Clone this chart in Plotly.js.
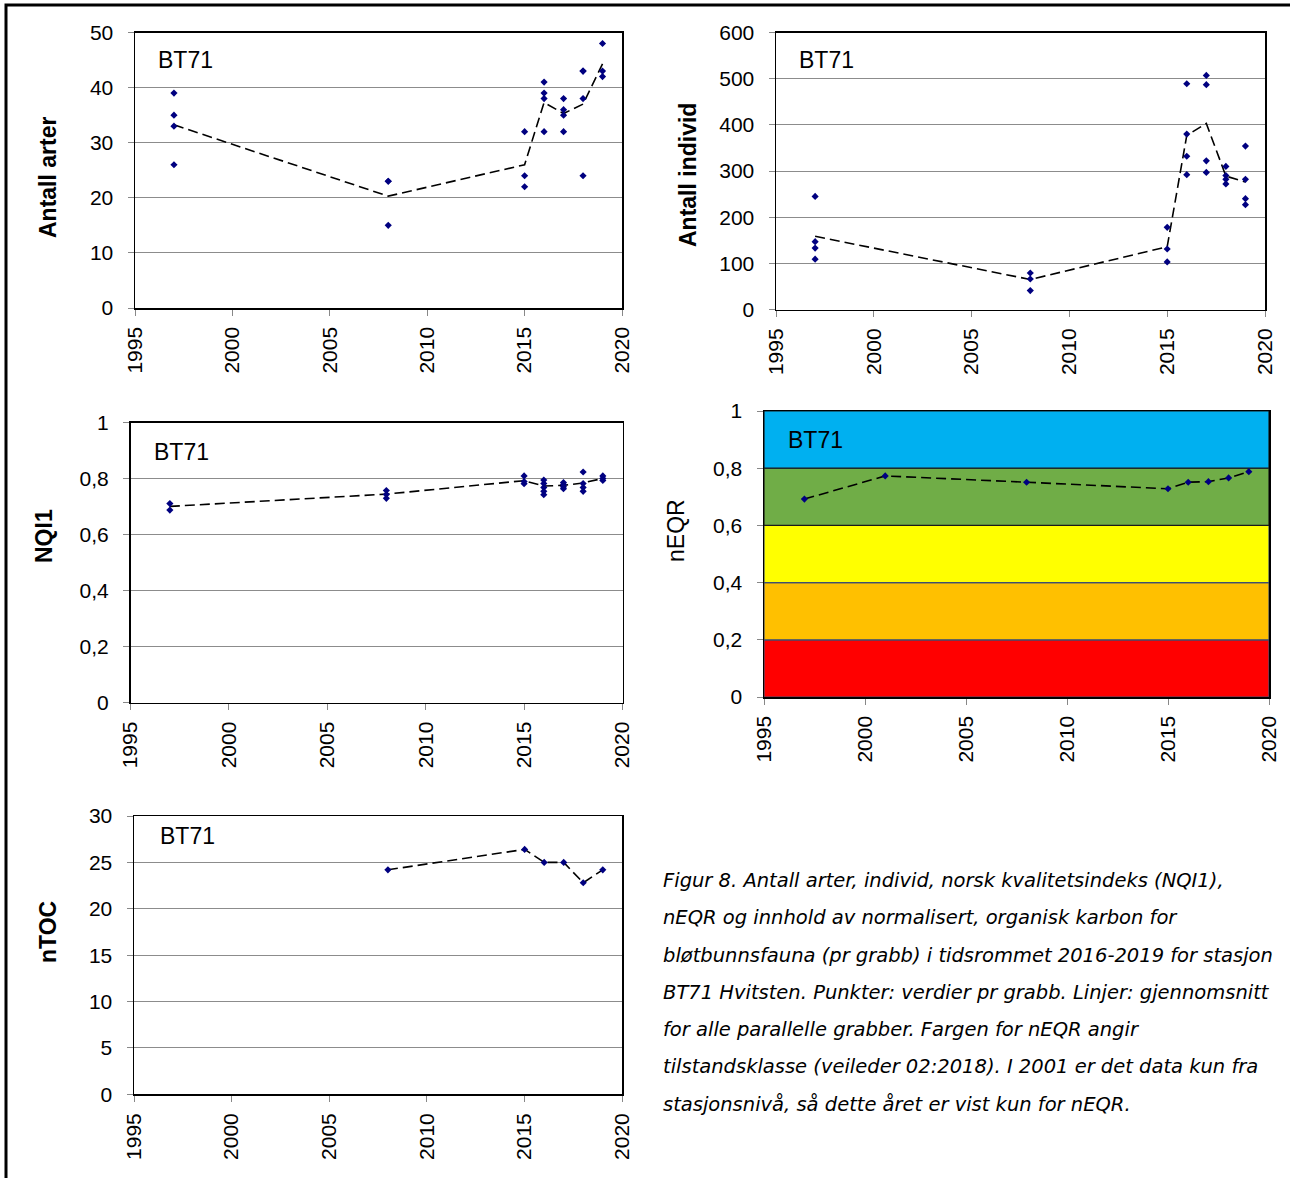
<!DOCTYPE html>
<html>
<head>
<meta charset="utf-8">
<script src="https://cdn.plot.ly/plotly-3.0.1.min.js"></script>
<style>html,body{margin:0;padding:0;background:#fff;}#chart{width:1290px;height:1178px;}</style>
</head>
<body>
<div id="chart"></div>
<script>
// ---------------- DATA ----------------
const stationLabel = 'BT71';
const xTickVals = [1995, 2000, 2005, 2010, 2015, 2020];
const xTickText = ['1995', '2000', '2005', '2010', '2015', '2020'];

// Antall arter (per grabb)
const arterYears  = [1997,1997,1997,1997, 2008,2008,2008, 2015,2015,2015, 2016,2016,2016,2016, 2017,2017,2017,2017, 2018,2018,2018,2018, 2019,2019,2019];
const arterValues = [39,35,33,26, 23,23,15, 32,24,22, 41,39,38,32, 38,36,35,32, 43,43,38,24, 48,43,42];
const arterMeanYears  = [1997, 2008, 2015, 2016, 2017, 2018, 2019];
const arterMeanValues = [33.25, 20.3, 26, 37.3, 35.3, 37, 44.3];
const arterTicks = [0, 10, 20, 30, 40, 50];
const arterTickText = ['0', '10', '20', '30', '40', '50'];

// Antall individ (per grabb)
const individYears  = [1997,1997,1997,1997, 2008,2008,2008, 2015,2015,2015, 2016,2016,2016,2016, 2017,2017,2017,2017, 2018,2018,2018,2018, 2019,2019,2019,2019];
const individValues = [245,147,133,109, 79,66,41, 178,131,103, 489,380,332,292, 507,487,322,297, 310,290,282,272, 354,282,240,227];
const individMeanYears  = [1997, 2008, 2015, 2016, 2017, 2018, 2019];
const individMeanValues = [158.5, 65, 136, 377, 403, 289, 276];
const individTicks = [0, 100, 200, 300, 400, 500, 600];
const individTickText = ['0', '100', '200', '300', '400', '500', '600'];

// NQI1 (per grabb)
const nqiYears  = [1997,1997, 2008,2008,2008, 2015,2015,2015, 2016,2016,2016,2016,2016, 2017,2017,2017,2017, 2018,2018,2018,2018, 2019,2019,2019];
const nqiValues = [0.711,0.688, 0.758,0.744,0.730, 0.810,0.790,0.782, 0.795,0.783,0.769,0.755,0.743, 0.786,0.779,0.771,0.764, 0.824,0.783,0.769,0.755, 0.810,0.801,0.794];
const nqiMeanYears  = [1997, 2008, 2015, 2016, 2017, 2018, 2019];
const nqiMeanValues = [0.701, 0.745, 0.793, 0.774, 0.776, 0.785, 0.801];
const fracTicks = [0, 0.2, 0.4, 0.6, 0.8, 1];
const fracTickText = ['0', '0,2', '0,4', '0,6', '0,8', '1'];

// nEQR (mean)
const neqrYears  = [1997, 2001, 2008, 2015, 2016, 2017, 2018, 2019];
const neqrValues = [0.692, 0.773, 0.751, 0.728, 0.751, 0.753, 0.766, 0.788];
const classBounds = [0, 0.2, 0.4, 0.6, 0.8, 1];
const classColors = ['#FF0000', '#FFC000', '#FFFF00', '#70AD47', '#00B0F0'];

// nTOC
const ntocYears  = [2008, 2015, 2016, 2017, 2018, 2019];
const ntocValues = [24.2, 26.4, 25.0, 25.0, 22.8, 24.2];
const ntocTicks = [0, 5, 10, 15, 20, 25, 30];
const ntocTickText = ['0', '5', '10', '15', '20', '25', '30'];

const axisTitles = ['Antall arter', 'Antall individ', 'NQI1', 'nEQR', 'nTOC'];
const captionLines = [
  'Figur 8. Antall arter, individ, norsk kvalitetsindeks (NQI1),',
  'nEQR og innhold av normalisert, organisk karbon for',
  'bløtbunnsfauna (pr grabb) i tidsrommet 2016-2019 for stasjon',
  'BT71 Hvitsten. Punkter: verdier pr grabb. Linjer: gjennomsnitt',
  'for alle parallelle grabber. Fargen for nEQR angir',
  'tilstandsklasse (veileder 02:2018). I 2001 er det data kun fra',
  'stasjonsnivå, så dette året er vist kun for nEQR.'
];

// ---------------- LAYOUT ----------------
const W = 1290, H = 1178;
const px = v => v / W;
const py = v => 1 - v / H;

// pixel boxes [left, right, top, bottom]
const boxes = [
  [135, 622, 32.5, 308],
  [776, 1265, 32.5, 309.5],
  [130.5, 622.5, 422.7, 702.7],
  [764, 1269, 411, 697],
  [134, 622.3, 816, 1094.3]
];
const yRanges = [[0, 50], [0, 600], [0, 1], [0, 1], [0, 30]];
const yTickSets = [[arterTicks, arterTickText], [individTicks, individTickText], [fracTicks, fracTickText], [fracTicks, fracTickText], [ntocTicks, ntocTickText]];

const tickFont = {family: 'Liberation Sans, Arial, sans-serif', size: 21, color: '#000'};
const layout = {
  width: W, height: H,
  margin: {l: 0, r: 0, t: 0, b: 0},
  paper_bgcolor: '#fff', plot_bgcolor: '#fff',
  showlegend: false, hovermode: false,
  separators: ', ',
  shapes: [], annotations: []
};

boxes.forEach((b, i) => {
  const n = i + 1;
  const xa = 'xaxis' + (n === 1 ? '' : n), ya = 'yaxis' + (n === 1 ? '' : n);
  layout[xa] = {
    domain: [px(b[0]), px(b[1])], range: [1995, 2020],
    anchor: 'y' + (n === 1 ? '' : n),
    tickvals: xTickVals, ticktext: xTickText, tickangle: -90,
    ticks: 'outside', ticklen: 6, tickcolor: '#888', tickwidth: 1,
    ticklabelstandoff: 3,
    showline: true, mirror: true, linecolor: '#000', linewidth: 1.5,
    showgrid: false, zeroline: false, tickfont: tickFont, fixedrange: true
  };
  layout[ya] = {
    domain: [py(b[3]), py(b[2])], range: yRanges[i],
    anchor: 'x' + (n === 1 ? '' : n),
    tickvals: yTickSets[i][0], ticktext: yTickSets[i][1],
    ticks: 'outside', ticklen: 6, tickcolor: '#888', tickwidth: 1,
    ticklabelstandoff: 10,
    showline: true, mirror: true, linecolor: '#000', linewidth: 1.5,
    showgrid: n !== 4, gridcolor: '#8c8c8c', gridwidth: 1,
    zeroline: false, tickfont: tickFont, fixedrange: true
  };
});

// nEQR class bands
for (let k = 0; k < classColors.length; k++) {
  layout.shapes.push({
    type: 'rect', xref: 'x4 domain', yref: 'y4', layer: 'below',
    x0: 0, x1: 1, y0: classBounds[k], y1: classBounds[k + 1],
    fillcolor: classColors[k], line: {color: k >= 3 ? '#1a1a1a' : '#3f4f6f', width: 1.2}
  });
}

// outer frame (top + left)
layout.shapes.push({
  type: 'path', xref: 'paper', yref: 'paper',
  path: `M ${px(6)},0 L ${px(6)},${py(5)} L 1,${py(5)}`,
  line: {color: '#000', width: 3}
});

// station labels
const labelPos = [[156, 60], [797, 60], [152, 452], [786, 440], [158, 836]];
labelPos.forEach(p => layout.annotations.push({
  xref: 'paper', yref: 'paper', x: px(p[0]), y: py(p[1]), xanchor: 'left', yanchor: 'middle',
  text: stationLabel, showarrow: false,
  font: {family: 'Liberation Sans, Arial, sans-serif', size: 23, color: '#000'}
}));

// axis titles
const titlePos = [[48, 178, true], [688, 175, true], [44, 536, true], [676, 531, false], [48, 932, true]];
titlePos.forEach((p, i) => layout.annotations.push({
  xref: 'paper', yref: 'paper', x: px(p[0]), y: py(p[1]), xanchor: 'center', yanchor: 'middle',
  text: p[2] ? '<b>' + axisTitles[i] + '</b>' : axisTitles[i], textangle: -90, showarrow: false,
  font: {family: 'Liberation Sans, Arial, sans-serif', size: 23, color: '#000'}
}));

// caption
const capY = [880, 917, 955, 992, 1029, 1066, 1104];
captionLines.forEach((t, i) => layout.annotations.push({
  xref: 'paper', yref: 'paper', x: px(661), y: py(capY[i]), xanchor: 'left', yanchor: 'middle',
  text: '<i>' + t + '</i>', showarrow: false,
  font: {family: 'DejaVu Sans, sans-serif', size: 19.5, color: '#000'}
}));

// ---------------- TRACES ----------------
const pointStyle = {symbol: 'diamond', size: 5.5, color: '#000080'};
const meanLine = {color: '#000', width: 1.6, dash: '10px,5px'};
const traces = [
  {x: arterMeanYears, y: arterMeanValues, mode: 'lines', line: meanLine, xaxis: 'x', yaxis: 'y'},
  {x: arterYears, y: arterValues, mode: 'markers', marker: pointStyle, xaxis: 'x', yaxis: 'y'},
  {x: individMeanYears, y: individMeanValues, mode: 'lines', line: meanLine, xaxis: 'x2', yaxis: 'y2'},
  {x: individYears, y: individValues, mode: 'markers', marker: pointStyle, xaxis: 'x2', yaxis: 'y2'},
  {x: nqiMeanYears, y: nqiMeanValues, mode: 'lines', line: meanLine, xaxis: 'x3', yaxis: 'y3'},
  {x: nqiYears, y: nqiValues, mode: 'markers', marker: pointStyle, xaxis: 'x3', yaxis: 'y3'},
  {x: neqrYears, y: neqrValues, mode: 'lines+markers', line: meanLine, marker: pointStyle, xaxis: 'x4', yaxis: 'y4'},
  {x: ntocYears, y: ntocValues, mode: 'lines+markers', line: meanLine, marker: pointStyle, xaxis: 'x5', yaxis: 'y5'}
];

Plotly.newPlot('chart', traces, layout, {staticPlot: true, displayModeBar: false});
</script>
</body>
</html>
